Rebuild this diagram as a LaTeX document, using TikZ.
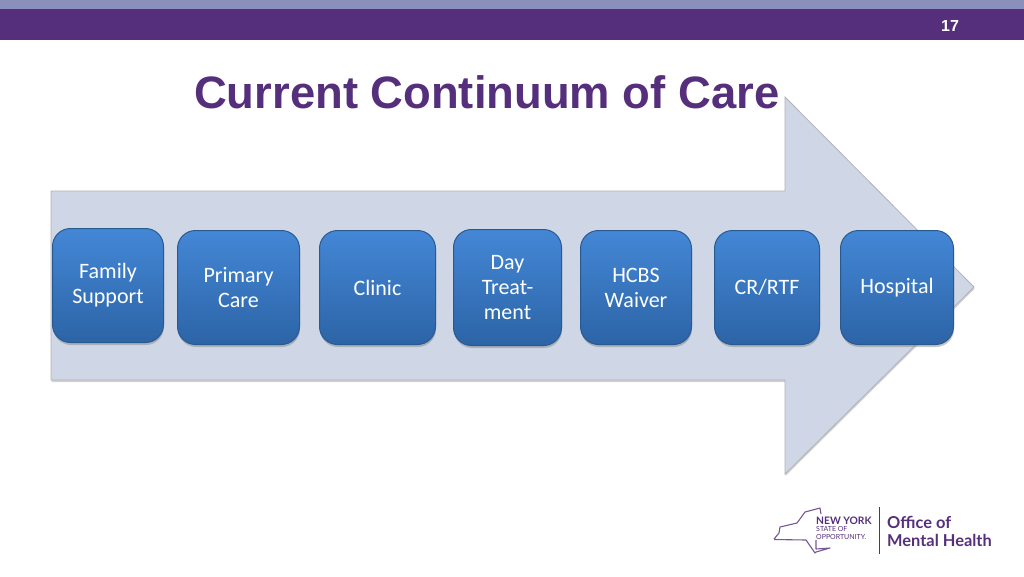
\documentclass[tikz,border=0pt]{standalone}
\usepackage{fontspec}
\setmainfont{Liberation Sans}
\newfontfamily\boxfont{Carlito}
\newfontfamily\logofont{Lato}
\usetikzlibrary{positioning, shadows, shapes.misc}
\definecolor{OMHPurple}{HTML}{552F7C}
\definecolor{OMHLilac}{HTML}{8A8FBB}
\definecolor{ArrowFill}{HTML}{CFD7E6}
\definecolor{ArrowEdge}{HTML}{B0B2B6}
\definecolor{CareTop}{HTML}{4487D6}
\definecolor{CareMiddle}{HTML}{3B7CC6}
\definecolor{CareBottom}{HTML}{2C64A6}
\definecolor{CareEdge}{HTML}{285A92}
\tikzset{
    carebox/.style={rectangle, rounded corners=18pt, draw=CareEdge, line width=1pt,
        top color=CareTop, middle color=CareMiddle, bottom color=CareBottom, text=white, align=center,
        font=\boxfont\fontsize{22}{25}\selectfont, inner sep=0pt, anchor=north west,
        drop shadow={shadow xshift=0.5pt, shadow yshift=-2.5pt, opacity=0.45}},
    logotext/.style={OMHPurple, anchor=west, inner sep=0pt, align=left}
}
\begin{document}
\begin{tikzpicture}[x=1pt, y=-1pt]
    \useasboundingbox (0,0) rectangle (1024,576);

    % Background
    \fill[white] (0,0) rectangle (1024,576);
    \fill[OMHLilac] (0,0) rectangle (1024,9);
    \fill[OMHPurple] (0,9) rectangle (1024,40);
    \node[white, font=\bfseries\fontsize{16}{18}\selectfont] (pagenumber) at (950,26) {17};

    % Big arrow
    \draw[ArrowEdge, fill=ArrowFill, line width=0.8pt, drop shadow={shadow xshift=0.5pt, shadow yshift=-2pt, opacity=0.35}]
        (51,191) -- (785,191) -- (785,97) -- (974,287) -- (785,474) -- (785,380) -- (51,380) -- cycle;

    % Title
    \node[OMHPurple, anchor=base west, inner sep=0pt, font=\bfseries\fontsize{45.4}{48}\selectfont] (title) at (194,108.5) {Current Continuum of Care};

    % Care levels
    \foreach \name/\xa/\ya/\xb/\yb/\txt in {
        family/52/228/163/342/{Family\\Support},
        primary/177/230/299/344/{Primary\\Care},
        clinic/319/230/435/344/{Clinic},
        day/453/229/561/345/{Day\\Treat-\\ment},
        hcbs/580/230/691/344/{HCBS\\Waiver},
        crrtf/714/230/819/344/{CR/RTF},
        hospital/840/230/953/344/{Hospital}}
    {
        \pgfmathsetlengthmacro{\boxw}{(\xb-\xa)*1pt}
        \pgfmathsetlengthmacro{\boxh}{(\yb-\ya)*1pt}
        \node[carebox, minimum width=\boxw, minimum height=\boxh, text width=\boxw] (\name) at (\xa,\ya) {\txt};
    }

    % Logo
    \draw[OMHPurple!80, line width=1.1pt, line join=round]
        (774,539) -- (779,533) -- (780,527) -- (797,523) -- (805,512) -- (820,508) -- (821,514)
        (816,540) -- (816,549) -- (830,548) -- (816,552) -- (815,553) -- (806,540) -- (774,539.5);
    \node[logotext, font=\logofont\bfseries\fontsize{10.3}{12}\selectfont] (newyork) at (816,520.5) {NEW YORK};
    \node[logotext, font=\logofont\fontsize{7}{7.5}\selectfont] (opportunity) at (816,533) {STATE OF\\OPPORTUNITY.};
    \draw[OMHPurple, line width=0.9pt] (879,507) -- (879,554);
    \node[logotext, font=\logofont\bfseries\fontsize{16.4}{17.5}\selectfont] (omh) at (887,531.5) {Office of\\Mental Health};

\end{tikzpicture}
\end{document}
